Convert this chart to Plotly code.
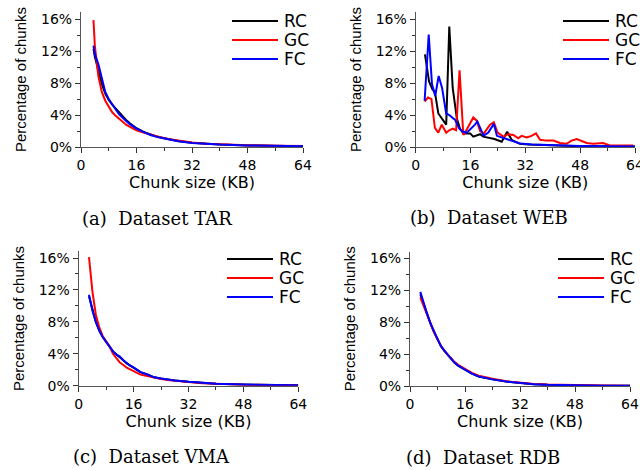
import plotly.graph_objects as go

# ---------------- data ----------------
series_names = ["RC", "GC", "FC"]
colors = {"RC": "#000000", "GC": "#ff0000", "FC": "#0000ff"}

y_ticks = [0, 4, 8, 12, 16]
y_tick_text = ["0%", "4%", "8%", "12%", "16%"]
x_ticks = [0, 16, 32, 48, 64]

# (a) Dataset TAR
tar_x = [3.6, 4, 5, 6, 7, 8, 9, 10, 11, 12, 13, 14, 16, 18, 20, 22, 24, 26, 28, 32, 36, 40, 48, 56, 64]
tar_rc = [12.3, 11.3, 9.6, 7.9, 6.7, 5.9, 5.3, 4.8, 4.3, 3.9, 3.4, 3.0, 2.35, 1.9, 1.55, 1.3, 1.1, 0.9, 0.75, 0.52, 0.4, 0.3, 0.2, 0.14, 0.1]
tar_gc = [15.9, 12.6, 8.9, 6.9, 5.8, 5.0, 4.35, 3.9, 3.5, 3.1, 2.8, 2.55, 2.1, 1.8, 1.55, 1.3, 1.1, 0.95, 0.8, 0.55, 0.42, 0.33, 0.22, 0.15, 0.12]
tar_fc = [12.7, 11.6, 10.4, 8.5, 6.9, 6.0, 5.3, 4.7, 4.1, 3.65, 3.25, 2.9, 2.3, 1.9, 1.5, 1.25, 1.05, 0.85, 0.72, 0.5, 0.38, 0.3, 0.2, 0.14, 0.1]

# (b) Dataset WEB
web_rc_x = [2.7, 3.9, 4.9, 5.6, 6.6, 8.1, 8.9, 9.8, 10.8, 12.0, 12.9, 13.9, 15.9, 16.8, 17.8, 18.8, 19.7, 21, 23, 25.1, 26.7, 28, 30.4, 33, 36, 40, 44, 48, 56, 64]
web_rc_y = [11.6, 8.2, 7.2, 6.9, 4.2, 3.2, 2.8, 15.1, 7.4, 3.6, 2.3, 1.7, 1.7, 1.3, 1.5, 1.6, 1.3, 1.2, 1.0, 0.66, 1.9, 0.9, 0.4, 0.3, 0.25, 0.2, 0.15, 0.1, 0.08, 0.05]
web_gc_x = [2.6, 3.6, 4.6, 5.6, 6.6, 7.6, 8.9, 9.8, 10.8, 11.8, 12.8, 13.9, 14.9, 16.8, 17.8, 18.8, 19.9, 21.7, 22.8, 23.9, 25.6, 27.0, 28.5, 29.9, 30.9, 32.4, 33.8, 35.1, 36.3, 38.2, 40.2, 42.1, 44.0, 45.5, 47.0, 48.4, 49.9, 51.8, 54.7, 56.7, 59.6, 63.5]
web_gc_y = [5.7, 6.2, 6.0, 2.4, 1.8, 2.8, 1.8, 2.1, 2.3, 2.1, 9.6, 1.5, 2.2, 3.7, 3.3, 2.0, 1.7, 2.8, 3.1, 1.8, 1.3, 1.6, 1.5, 1.1, 1.4, 1.2, 1.4, 1.7, 0.9, 0.8, 0.8, 0.5, 0.4, 0.8, 1.0, 0.8, 0.5, 0.4, 0.5, 0.2, 0.2, 0.2]
web_fc_x = [2.6, 3.8, 4.75, 5.7, 6.7, 7.7, 8.9, 9.8, 11.5, 12.7, 13.9, 14.9, 17.3, 18.0, 19.8, 21.2, 22.8, 23.7, 26.5, 30.4, 34, 40, 48, 56, 64]
web_fc_y = [5.8, 14.1, 7.9, 6.4, 8.9, 7.4, 4.2, 4.0, 3.4, 2.3, 1.9, 1.8, 2.8, 3.2, 1.4, 1.8, 2.9, 1.4, 1.0, 0.45, 0.3, 0.2, 0.12, 0.08, 0.05]

# (c) Dataset VMA
vma_x = [3, 4, 5, 6, 7, 8, 9, 10, 11, 12, 13, 14, 15, 16, 18, 20, 22, 24, 26, 28, 32, 36, 40, 48, 56, 64]
vma_rc = [11.2, 9.4, 8.0, 6.9, 6.1, 5.5, 4.9, 4.3, 3.9, 3.6, 3.2, 2.8, 2.5, 2.3, 1.7, 1.4, 1.05, 0.9, 0.75, 0.65, 0.48, 0.33, 0.25, 0.14, 0.09, 0.06]
vma_gc = [16.1, 11.8, 8.9, 7.3, 6.2, 5.5, 4.9, 4.0, 3.4, 2.9, 2.6, 2.25, 2.05, 1.8, 1.4, 1.2, 1.0, 0.85, 0.7, 0.6, 0.45, 0.3, 0.22, 0.12, 0.08, 0.06]
vma_fc = [11.4, 9.4, 8.0, 6.9, 6.1, 5.5, 4.9, 4.3, 3.9, 3.65, 3.2, 2.8, 2.5, 2.3, 1.7, 1.4, 1.05, 0.9, 0.75, 0.65, 0.48, 0.33, 0.25, 0.14, 0.09, 0.06]

# (d) Dataset RDB
rdb_x = [3, 4, 5, 6, 7, 8, 9, 10, 11, 12, 13, 14, 16, 18, 20, 22, 24, 28, 32, 36, 40, 48, 56, 64]
rdb_rc = [11.5, 10.2, 8.9, 7.8, 6.75, 5.9, 5.0, 4.4, 3.9, 3.4, 2.9, 2.55, 2.0, 1.55, 1.2, 1.0, 0.83, 0.55, 0.35, 0.22, 0.15, 0.07, 0.04, 0.02]
rdb_gc = [11.1, 10.0, 8.8, 7.7, 6.7, 5.85, 5.0, 4.4, 3.9, 3.45, 3.0, 2.65, 2.1, 1.65, 1.3, 1.08, 0.9, 0.6, 0.4, 0.26, 0.18, 0.09, 0.05, 0.03]
rdb_fc = [11.8, 10.3, 9.0, 7.8, 6.75, 5.9, 5.0, 4.4, 3.9, 3.4, 2.9, 2.55, 2.0, 1.55, 1.2, 1.0, 0.83, 0.55, 0.35, 0.22, 0.15, 0.07, 0.04, 0.02]

captions = ["(a)\u00a0\u00a0Dataset TAR", "(b)\u00a0\u00a0Dataset WEB",
            "(c)\u00a0\u00a0Dataset VMA", "(d)\u00a0\u00a0Dataset RDB"]

panels = [
    {"RC": (tar_x, tar_rc), "GC": (tar_x, tar_gc), "FC": (tar_x, tar_fc)},
    {"RC": (web_rc_x, web_rc_y), "GC": (web_gc_x, web_gc_y), "FC": (web_fc_x, web_fc_y)},
    {"RC": (vma_x, vma_rc), "GC": (vma_x, vma_gc), "FC": (vma_x, vma_fc)},
    {"RC": (rdb_x, rdb_rc), "GC": (rdb_x, rdb_gc), "FC": (rdb_x, rdb_fc)},
]

# ---------------- layout geometry (pixels in 640x470) ----------------
W, H = 640, 470
boxes = [  # x0, x1, y_bottom(0%), y_top
    (81, 303, 147, 12),
    (415.7, 635, 147, 12),
    (78.7, 298.3, 385.7, 251.2),
    (410, 630, 386, 251.5),
]
legend_pos = [(232, 21), (563, 21), (227, 259), (558, 259)]  # line start x, first row y
LEG_LINE, LEG_GAP, LEG_ROW = 46, 4, 19
caption_pos = [(157, 218), (489, 217), (151, 456), (483, 457)]

SANS = "DejaVu Sans, Verdana, sans-serif"
NARROW = "Liberation Sans, Arial, sans-serif"
SERIF = "DejaVu Serif, Liberation Serif, serif"

fig = go.Figure()
annotations = []
shapes = []
layout = dict(width=W, height=H, margin=dict(l=0, r=0, t=0, b=0, autoexpand=False),
              paper_bgcolor="white", plot_bgcolor="white",
              font=dict(family=SANS, size=14, color="black"),
              showlegend=False)

for i, panel in enumerate(panels):
    n = i + 1
    sfx = "" if n == 1 else str(n)
    for name in series_names:
        xs, ys = panel[name]
        fig.add_trace(go.Scatter(
            x=xs, y=ys, mode="lines", name=name,
            line=dict(color=colors[name], width=2),
            xaxis=f"x{sfx}", yaxis=f"y{sfx}"))
    x0, x1, yb, yt = boxes[i]
    common = dict(ticks="outside", ticklen=5, tickwidth=1, tickcolor="#333",
                  showline=True, linecolor="#555", linewidth=1.2, showgrid=False,
                  zeroline=False, automargin=False, fixedrange=True,
                  ticklabeloverflow="allow",
                  tickfont=dict(size=14, family=SANS, color="black"))
    layout[f"xaxis{sfx}"] = dict(
        domain=[x0 / W, x1 / W], range=[0, 64], anchor=f"y{sfx}",
        tickvals=x_ticks,
        minor=dict(dtick=8, tick0=0, ticks="outside", ticklen=3, tickcolor="#333", showgrid=False),
        title=dict(text="Chunk size (KB)", font=dict(size=16, family=SANS), standoff=2),
        **common)
    layout[f"yaxis{sfx}"] = dict(
        domain=[1 - yb / H, 1 - yt / H], range=[0, (yb - yt) / 7.98], anchor=f"x{sfx}",
        tickvals=y_ticks, ticktext=y_tick_text,
        minor=dict(dtick=2, tick0=0, ticks="outside", ticklen=3, tickcolor="#333", showgrid=False),
        title=dict(text="Percentage of chunks", font=dict(size=15, family=NARROW), standoff=10),
        **common)
    # legend (key lines + labels)
    lx, ly = legend_pos[i]
    for k, name in enumerate(series_names):
        ry = ly + k * LEG_ROW
        shapes.append(dict(type="line", xref="paper", yref="paper",
                           x0=lx / W, x1=(lx + LEG_LINE) / W,
                           y0=1 - ry / H, y1=1 - ry / H,
                           line=dict(color=colors[name], width=2)))
        annotations.append(dict(text=name, x=(lx + LEG_LINE + LEG_GAP) / W, y=1 - ry / H,
                                xref="paper", yref="paper", showarrow=False,
                                xanchor="left", yanchor="middle",
                                font=dict(family=SANS, size=17, color="black")))
    cx, cy = caption_pos[i]
    annotations.append(dict(
        text=captions[i], x=cx / W, y=1 - cy / H, xref="paper", yref="paper",
        showarrow=False, xanchor="center", yanchor="middle",
        font=dict(family=SERIF, size=18, color="black")))

layout["annotations"] = annotations
layout["shapes"] = shapes
fig.update_layout(**layout)
fig.write_html("out.html",
               config={"displayModeBar": False},
               post_script="document.body.style.margin='0';document.body.style.padding='0';"
                           "document.body.style.overflow='hidden';"
                           "document.documentElement.style.overflow='hidden';")
